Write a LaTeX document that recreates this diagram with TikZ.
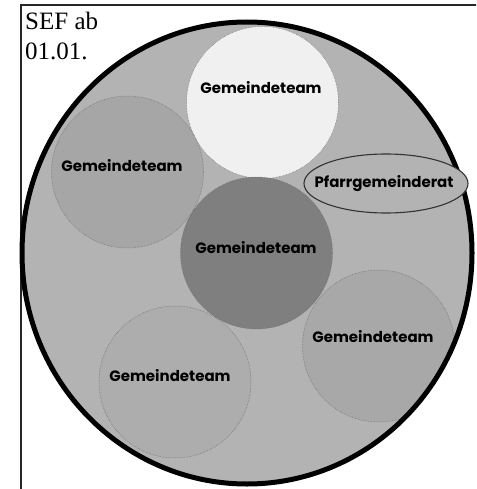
\documentclass[tikz,border=0pt]{standalone}
\usepackage{fontspec}
\usetikzlibrary{shapes.geometric}
\setmainfont{Liberation Serif}
\newfontfamily\gfont{Poppins}
\definecolor{bgc}{HTML}{B3B3B3}
\definecolor{cwhite}{HTML}{F0F0F0}
\definecolor{cleft}{HTML}{A6A6A6}
\definecolor{cdark}{HTML}{7F7F7F}
\definecolor{cright}{HTML}{A8A8A8}
\definecolor{clow}{HTML}{ADADAD}
\begin{document}
\begin{tikzpicture}[x=1pt,y=-1pt,
  team/.style={circle, minimum size=152pt, inner sep=0pt, draw=black!60, densely dotted, line width=0.5pt},
  lbl/.style={font=\gfont\bfseries\fontsize{15}{17}\selectfont, text=black, inner sep=0pt}]
\useasboundingbox (0,0) rectangle (476,489);
\begin{scope}
\clip (0,0) rectangle (476,489);
\draw[line width=1.4pt, black!85] (21,5) rectangle (500,520);
\end{scope}
\node[font=\fontsize{25}{30}\selectfont, align=left, anchor=north west, inner sep=0pt] (title) at (25,12) {SEF ab\\01.01.};
\node[ellipse, fill=bgc, minimum width=450pt, minimum height=462pt, inner sep=0pt] (big) at (247,253) {};
\begin{scope}
\clip (247,253) ellipse [x radius=225, y radius=231];
\node[team, fill=cwhite] (t1) at (262.5,102.5) {};
\node[team, fill=cleft] (t2) at (127.5,172) {};
\node[team, fill=cright] (t4) at (378.5,346) {};
\node[team, fill=clow] (t5) at (175,382) {};
\node[team, fill=cdark] (t3) at (256.5,253) {};
\end{scope}
\node[ellipse, draw=black, line width=5pt, minimum width=450pt, minimum height=462pt, inner sep=0pt] (bigline) at (big.center) {};
\node[lbl] (l1) at (261,88) {Gemeindeteam};
\node[lbl] (l2) at (122,166) {Gemeindeteam};
\node[lbl] (l3) at (256,248) {Gemeindeteam};
\node[lbl] (l4) at (373,337) {Gemeindeteam};
\node[lbl] (l5) at (170,376) {Gemeindeteam};
\node[ellipse, draw=black!80, line width=1.1pt, minimum width=164pt, minimum height=59pt, inner sep=0pt, fill=bgc] (pgr) at (386,183.5) {};
\node[lbl] (lp) at (384,184) {Pfarrgemeinderat};
\end{tikzpicture}
\end{document}
